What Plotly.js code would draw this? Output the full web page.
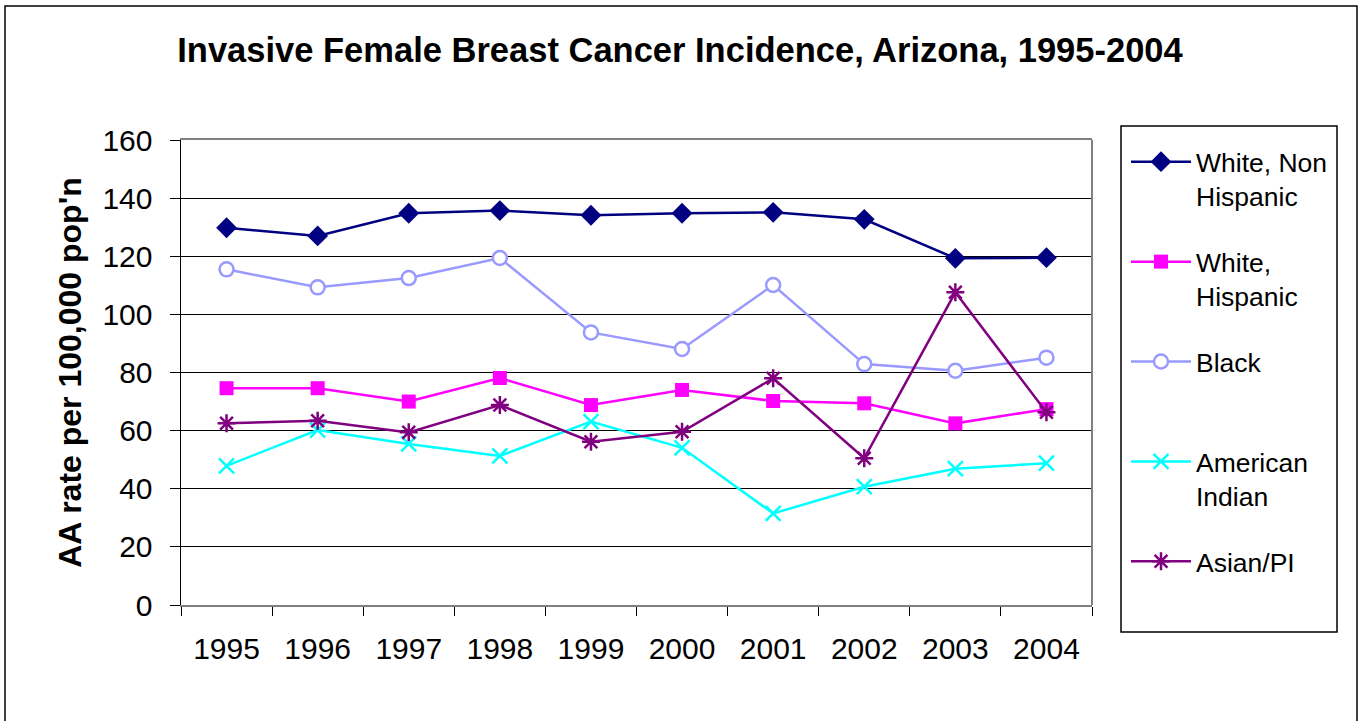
<!DOCTYPE html>
<html>
<head>
<meta charset="utf-8">
<script src="https://cdn.plot.ly/plotly-3.0.1.min.js"></script>
<style>
  html, body { margin: 0; padding: 0; background: #fff; }
  #chart { width: 1360px; height: 721px; }
</style>
</head>
<body>
<div id="chart"></div>
<script>
// ---- data ----
const years = ['1995', '1996', '1997', '1998', '1999', '2000', '2001', '2002', '2003', '2004'];
const whiteNonHispanic = [129.8, 127.0, 134.8, 135.7, 134.1, 134.8, 135.1, 132.7, 119.3, 119.5];
const whiteHispanic    = [74.6, 74.6, 70.0, 78.1, 68.8, 74.0, 70.2, 69.4, 62.5, 67.4];
const black            = [115.5, 109.3, 112.5, 119.4, 93.8, 88.1, 110.1, 82.9, 80.6, 85.1];
const americanIndian   = [47.9, 60.2, 55.4, 51.3, 63.1, 54.1, 31.5, 40.7, 46.9, 48.8];
const asianPI          = [62.5, 63.4, 59.4, 68.8, 56.2, 59.6, 78.0, 50.5, 107.6, 66.3];
const seriesNames = ['White, Non<br>Hispanic', 'White,<br>Hispanic', 'Black<br> ', 'American<br>Indian', 'Asian/PI<br> '];
const yTicks = [0, 20, 40, 60, 80, 100, 120, 140, 160];

const FONT = 'Liberation Sans, Arial, sans-serif';
const W = 1360, H = 721;
const L = 181, R = 1092, T = 140, B = 605;
const pw = R - L, ph = B - T;
const px = v => (v - L) / pw;
const py = v => (B - v) / ph;

function mk(name, y, color, marker, group) {
  return {
    type: 'scatter', mode: 'lines+markers', x: years, y: y, name: name,
    legendgroup: group,
    line: { color: color, width: 2.5 },
    marker: marker,
    cliponaxis: false,
    hoverinfo: 'x+y+name'
  };
}

const traces = [
  mk(seriesNames[0], whiteNonHispanic, '#000080', { symbol: 'diamond', size: 16, color: '#000080' }, 'g1'),
  mk(seriesNames[1], whiteHispanic, '#FF00FF', { symbol: 'square', size: 14, color: '#FF00FF' }, 'g2'),
  mk(seriesNames[2], black, '#9999FF', { symbol: 'circle', size: 14, color: '#FFFFFF', line: { color: '#9999FF', width: 2.5 } }, 'g3'),
  mk(seriesNames[3], americanIndian, '#00FFFF', { symbol: 'x-thin-open', size: 15, color: '#00FFFF', line: { color: '#00FFFF', width: 2.5 } }, 'g4'),
  mk(seriesNames[4], asianPI, '#800080', { symbol: 'asterisk-open', size: 15, color: '#800080', line: { color: '#800080', width: 2.5 } }, 'g5')
];

const layout = {
  width: W, height: H,
  margin: { l: L, r: W - R, t: T, b: H - B, pad: 0 },
  paper_bgcolor: '#FFFFFF',
  plot_bgcolor: '#FFFFFF',
  font: { family: FONT, color: '#000000' },
  title: {
    text: '<b>Invasive Female Breast Cancer Incidence, Arizona, 1995-2004</b>',
    font: { family: FONT, size: 34.5, color: '#000000' },
    x: 0.5, xanchor: 'center', y: 1 - 50 / H, yanchor: 'middle'
  },
  xaxis: {
    type: 'category',
    range: [-0.5, years.length - 0.5],
    tickson: 'boundaries',
    ticks: 'outside', ticklen: 9, tickwidth: 1, tickcolor: '#000000',
    showline: true, linecolor: '#808080', linewidth: 2, mirror: true,
    showgrid: false, zeroline: false,
    tickfont: { family: FONT, size: 30, color: '#000000' },
    ticklabelstandoff: 16,
    fixedrange: true
  },
  yaxis: {
    range: [0, 160],
    tickvals: yTicks, ticktext: yTicks.map(String),
    ticks: 'outside', ticklen: 10, tickwidth: 1, tickcolor: '#000000',
    showline: true, linecolor: '#000000', linewidth: 1.5,
    showgrid: true, gridcolor: '#000000', gridwidth: 1,
    zeroline: false,
    tickfont: { family: FONT, size: 30, color: '#000000' },
    ticklabelstandoff: 11,
    title: { text: "<b>AA rate per 100,000 pop'n</b>", font: { family: FONT, size: 32, color: '#000000' }, standoff: 11 },
    automargin: false,
    fixedrange: true
  },
  showlegend: true,
  legend: {
    x: px(1126), xanchor: 'left',
    y: py(138), yanchor: 'top',
    bgcolor: 'rgba(0,0,0,0)', borderwidth: 0,
    font: { family: FONT, size: 26.5, color: '#000000' },
    tracegroupgap: 28, valign: 'top', itemwidth: 60,
    traceorder: 'grouped',
    maxheight: 640
  },
  shapes: [
    // right side of plot-area border (grey)
    { type: 'line', xref: 'paper', yref: 'paper', x0: 1, x1: 1, y0: 0, y1: 1, line: { color: '#808080', width: 2 } },
    // legend frame
    { type: 'rect', xref: 'paper', yref: 'paper', x0: px(1121), x1: px(1337), y0: py(632), y1: py(126), line: { color: '#000000', width: 1.5 } },
    // chart-area frame
    { type: 'rect', xref: 'paper', yref: 'paper', x0: px(5), x1: px(1357), y0: py(730), y1: py(6), line: { color: '#000000', width: 1.5 } }
  ]
};

Plotly.newPlot('chart', traces, layout, { displayModeBar: false, staticPlot: true });
</script>
</body>
</html>
